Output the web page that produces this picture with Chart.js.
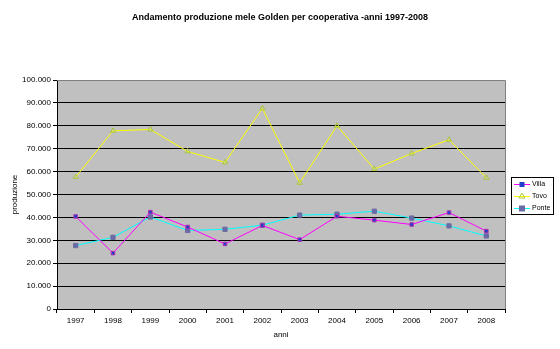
<!DOCTYPE html>
<html>
<head>
<meta charset="utf-8">
<script src="https://cdn.jsdelivr.net/npm/chart.js@4/dist/chart.umd.min.js"></script>
<style>
    html, body { margin: 0; padding: 0; background: #fff; }
    #wrap { width: 560px; height: 349px; position: relative; }
</style>
</head>
<body>
<div id="wrap"><canvas id="productionChart"></canvas></div>
<script>
const years = ['1997', '1998', '1999', '2000', '2001', '2002', '2003', '2004', '2005', '2006', '2007', '2008'];
const villa = [40400, 24400, 42300, 35800, 28400, 36500, 30300, 40500, 38800, 36900, 42100, 34000];
const tovo = [57600, 77800, 78400, 68800, 64000, 87600, 55100, 80000, 61100, 67900, 73900, 57300];
const ponte = [27700, 31300, 40200, 34300, 34800, 36600, 41000, 41400, 42700, 39700, 36300, 31900];

const titleText = 'Andamento produzione mele Golden per cooperativa -anni 1997-2008';
const FONT = 'Arial, "Liberation Sans", sans-serif';

// grey plot area, frame and title
const plotBackground = {
    id: 'plotBackground',
    beforeDraw(chart) {
        const { ctx, chartArea: a } = chart;
        ctx.save();
        ctx.fillStyle = '#c0c0c0';
        ctx.fillRect(a.left, a.top, a.right - a.left, a.bottom - a.top);
        ctx.restore();
    },
    afterDraw(chart) {
        const { ctx, chartArea: a } = chart;
        ctx.save();
        ctx.strokeStyle = '#808080';
        ctx.lineWidth = 1;
        ctx.beginPath();
        ctx.moveTo(a.left, a.top + 0.5);
        ctx.lineTo(a.right + 0.5, a.top + 0.5);
        ctx.lineTo(a.right + 0.5, a.bottom);
        ctx.stroke();

        ctx.fillStyle = '#000';
        ctx.font = 'bold 9px ' + FONT;
        ctx.textAlign = 'center';
        ctx.textBaseline = 'middle';
        ctx.fillText(titleText, 280, 18);
        ctx.restore();
    }
};

// Excel-like boxed legend on the right
const boxLegend = {
    id: 'boxLegend',
    afterDraw(chart) {
        const { ctx } = chart;
        const x = 511, y = 177, w = 42, h = 37;
        ctx.save();
        ctx.fillStyle = '#fff';
        ctx.fillRect(x, y, w, h);
        ctx.strokeStyle = '#000';
        ctx.lineWidth = 1;
        ctx.strokeRect(x + 0.5, y + 0.5, w, h);
        ctx.font = '7px ' + FONT;
        ctx.textBaseline = 'middle';
        chart.data.datasets.forEach((ds, i) => {
            const cy = y + 7 + i * 12;
            ctx.strokeStyle = ds.borderColor;
            ctx.beginPath();
            ctx.moveTo(x + 3, cy + 0.5);
            ctx.lineTo(x + 19, cy + 0.5);
            ctx.stroke();
            const r = ds.pointRadius;
            if (ds.pointStyle === 'triangle') {
                ctx.strokeStyle = ds.pointBorderColor;
                ctx.beginPath();
                ctx.moveTo(x + 11, cy - r);
                ctx.lineTo(x + 11 + r, cy + r - 1);
                ctx.lineTo(x + 11 - r, cy + r - 1);
                ctx.closePath();
                ctx.stroke();
            } else {
                ctx.fillStyle = ds.pointBackgroundColor;
                ctx.fillRect(x + 11 - r, cy - r + 0.5, r * 2, r * 2);
            }
            ctx.fillStyle = '#000';
            ctx.fillText(ds.label, x + 21, cy + 0.5);
        });
        ctx.restore();
    }
};

new Chart(document.getElementById('productionChart'), {
    type: 'line',
    data: {
        labels: years,
        datasets: [
            {
                label: 'Villa',
                data: villa,
                borderColor: '#ff00ff',
                borderWidth: 1,
                pointStyle: 'rect',
                pointRadius: 2.5,
                pointBackgroundColor: '#1f3fc8',
                pointBorderColor: '#b030b0',
                pointBorderWidth: 1,
                tension: 0
            },
            {
                label: 'Tovo',
                data: tovo,
                borderColor: '#ffff00',
                borderWidth: 1,
                pointStyle: 'triangle',
                pointRadius: 3,
                pointBackgroundColor: 'rgba(0,0,0,0)',
                pointBorderColor: '#a8c83c',
                pointBorderWidth: 1,
                tension: 0
            },
            {
                label: 'Ponte',
                data: ponte,
                borderColor: '#00ffff',
                borderWidth: 1,
                pointStyle: 'rect',
                pointRadius: 3,
                pointBackgroundColor: '#6a6aa6',
                pointBorderColor: '#6a6aa6',
                pointBorderWidth: 1,
                tension: 0
            }
        ]
    },
    options: {
        responsive: true,
        maintainAspectRatio: false,
        animation: false,
        layout: {
            padding: { top: 80, right: 55, bottom: 0, left: 0 }
        },
        plugins: {
            legend: { display: false },
            title: { display: false },
            tooltip: { enabled: false }
        },
        scales: {
            x: {
                offset: true,
                afterFit: (scale) => { scale.height = 40; },
                grid: {
                    offset: true,
                    drawOnChartArea: false,
                    drawTicks: true,
                    tickLength: 4,
                    tickColor: '#000'
                },
                border: { color: '#000', width: 1 },
                ticks: {
                    color: '#000',
                    font: { family: FONT, size: 8 },
                    padding: 3,
                    maxRotation: 0
                },
                title: {
                    display: true,
                    text: 'anni',
                    color: '#000',
                    font: { family: FONT, size: 8 },
                    padding: { top: 0, bottom: 9 }
                }
            },
            y: {
                min: 0,
                max: 100000,
                afterFit: (scale) => { scale.width = 57; },
                grid: {
                    color: (c) => (c.tick && c.tick.value === 100000 ? '#808080' : '#000'),
                    lineWidth: 1,
                    drawTicks: true,
                    tickLength: 4,
                    tickColor: '#000'
                },
                border: { color: '#000', width: 1 },
                ticks: {
                    stepSize: 10000,
                    color: '#000',
                    font: { family: FONT, size: 8 },
                    padding: 2,
                    callback: (v) => v.toLocaleString('it-IT')
                },
                title: {
                    display: true,
                    text: 'produzione',
                    color: '#000',
                    font: { family: FONT, size: 8 },
                    padding: { top: 10, bottom: 0 }
                }
            }
        }
    },
    plugins: [plotBackground, boxLegend]
});
</script>
</body>
</html>
